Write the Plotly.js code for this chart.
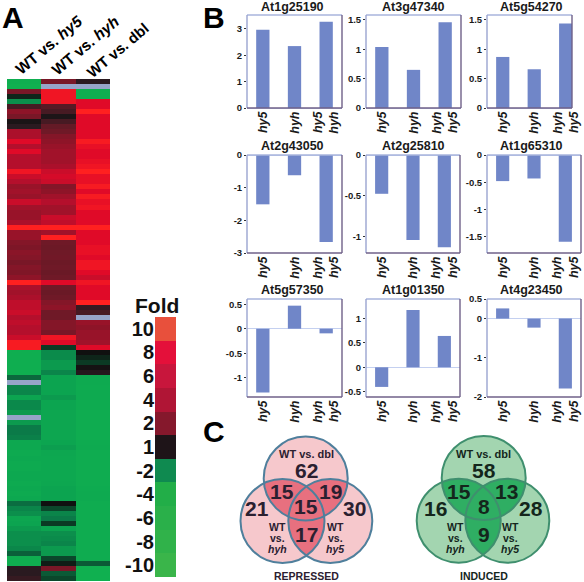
<!DOCTYPE html>
<html><head><meta charset="utf-8">
<script src="https://cdn.plot.ly/plotly-3.0.1.min.js"></script>
<style>html,body{margin:0;padding:0;background:#fff}</style></head>
<body><div id="chart" style="width:584px;height:582px"></div>
<script>
// Heatmap (fold change) read row by row, top to bottom. null = missing data
const heatCols = ['WT vs. hy5','WT vs. hyh','WT vs. dbl'];
const wtHy5 = [-9,-10,3,-0.5,-3,1.5,4,3,0.4,1,5.5,5.5,8,6,8,6,6,6,9,7,6,4.5,5,4.5,7,5,4.5,4.5,5.5,10,4.5,4.5,3.5,3.2,3.8,3.5,3,3.5,3.3,4,10,5.5,5,5.5,6.5,6.5,7,6,6.5,6,6,7,9.5,9.5,
 -9,-9,-9,-9,-9,-1.7,null,-2.5,-2.5,-4,-2.7,-2.7,-3.5,null,-3.5,-2,-2,-2.3,-6,-6,-7,-6,-7,-7,-6,-6,-7,-6,-7,-6,-1.8,-2.5,-3,-5,-4,-3.5,-3,-3,-3,-2.6,-1.6,-9,-9,1,1,1.2];
const wtHyh = [3,null,9,9,9,1.8,1.5,0.5,1.5,2,2.5,3.5,4,4.5,5,5,5,5.5,7,7.5,7,3.5,4,5,6,5,5,7,6.5,10,5,10,2.5,2.4,2.5,2.6,2.4,2.5,2.3,2.5,8,2.5,2.3,2.5,3.5,4,2.5,2.5,3.5,3.5,3,9,8,-1,
 -2.8,-2.8,-3.5,-3.5,-2.5,-4,-4,-4,-4,-3.5,-4.5,-4.5,-5,-5,-5,-5,-5,-5,-4.5,-3.7,-5.5,-6,-6,-6,-6,-6,-5.5,-4,-4,-4,0,-1.2,-2.5,-2,-1,-4,-3,-2.8,-2.5,-3.5,-3.5,-1.2,-0.3,3,-1.5,-1.2];
const wtDbl = [1,null,-9,-9,8,8,10,8,8,8,8,8,9.5,8.5,8,8,8.5,9,10,8.5,8.5,9.5,8,9.5,8.5,9,8,8,8,10,8,8,8,8.5,8.5,8,9,9,8,7,9,8,8,8,10,1.2,1.5,null,4.5,4,4.5,4.5,5,8,
 0,-0.5,-1,0.2,0.8,-7,-7,-7.5,-7,-7,-7.5,-7.5,-8,-8,-8,-8,-8,-8,-7.5,-7,-8,-8,-8,-8,-8,-8,-8,-7.5,-7,-7,-8,-8,-8,-8,-8,-8,-8,-8,-8,-8,-8,-8,-1.5,-10,-10,-10];

// Colour key
const foldLabels = ['10','8','6','4','2','1','-2','-4','-6','-8','-10'];
const foldColors = ['#e8503c','#e4103a','#c8163c','#b01535','#85182c','#1e1418','#0f8a50','#22ae48','#2ab04a','#30b24a','#3ab54a'];

// Bar charts
const geneNames = ['At1g25190','At3g47340','At5g54270','At2g43050','At2g25810','At1g65310','At5g57350','At1g01350','At4g23450'];
const geneValues = [
 [2.97,2.35,3.27],[1.04,0.65,1.46],[0.87,0.66,1.44],
 [-1.51,-0.62,-2.66],[-0.475,-1.04,-1.13],[-0.478,-0.43,-1.59],
 [-1.3,0.47,-0.095],[-0.4,1.17,0.64],[0.26,-0.23,-1.78]];
const geneTicks = [[0,1,2,3],[0,0.5,1,1.5],[0,0.5,1,1.5],[0,-1,-2,-3],[0,-0.5,-1],[0,-0.5,-1,-1.5],[0.5,0,-0.5,-1],[1,0.5,0,-0.5],[0.5,0,-1,-2]];
const geneRanges = [[0,3.53],[0,1.585],[0,1.585],[-3,0],[-1.2,0],[-1.795,0],[-1.394,0.606],[-0.606,1.394],[-2,0.5]];
const geneCats = ['<i>hy5</i>','<i>hyh</i>','<i>hyh<br>hy5</i>'];
const firstGeneCats = ['<i>hy5</i>','<i>hyh</i>','<i>hy5<br>hyh</i>'];

// Venn counts
const repressedCounts = {dbl:62, hyh:21, hy5:30, dblHyh:15, dblHy5:19, all:15, hyhHy5:17};
const inducedCounts = {dbl:58, hyh:16, hy5:28, dblHyh:15, dblHy5:13, all:8, hyhHy5:9};

const W=584,H=582;
const FONT='"Liberation Sans", Arial, sans-serif';
const dx=(a,b)=>[a/W,b/W], dy=(t,b)=>[1-b/H,1-t/H];
const traces=[], shapes=[], annotations=[];
const layout={width:W,height:H,margin:{l:0,r:0,t:0,b:0},paper_bgcolor:'#fff',plot_bgcolor:'rgba(0,0,0,0)',showlegend:false,font:{family:FONT,color:'#1a1a1a'}};

// ---- heatmap
const rows=wtHy5.map((_,i)=>i);
const z=rows.map(i=>[wtHy5[i],wtHyh[i],wtDbl[i]]);
const zr=v=>(v+10)/20;
const heatScale=[[zr(-10),'#10b050'],[zr(-4),'#0ca450'],[zr(-2),'#0b7a48'],[zr(-1),'#0b3a24'],[zr(0),'#101010'],[zr(1),'#2a1a20'],[zr(2),'#641a26'],[zr(4),'#8e1428'],[zr(6),'#b40f2c'],[zr(8),'#e00a28'],[zr(10),'#ff2020']];
traces.push({type:'heatmap',x:[0,1,2],y:rows,z:z,zmin:-10,zmax:10,colorscale:heatScale,showscale:false,xaxis:'x',yaxis:'y',hoverinfo:'skip'});
const mask=rows.map(i=>[wtHy5[i],wtHyh[i],wtDbl[i]].map(v=>v===null?1:null));
traces.push({type:'heatmap',x:[0,1,2],y:rows,z:mask,zmin:0,zmax:1,colorscale:[[0,'#96a4c8'],[1,'#96a4c8']],showscale:false,xaxis:'x',yaxis:'y',hoverinfo:'skip'});
layout.xaxis={domain:dx(7,110),range:[-0.5,2.5],visible:false,anchor:'y',fixedrange:true};
layout.yaxis={domain:dy(79,581),range:[99.5,-0.5],visible:false,anchor:'x',fixedrange:true};

// ---- key
traces.push({type:'heatmap',x:[0],y:foldLabels,z:foldLabels.map((_,i)=>[i]),zmin:0,zmax:10,
 colorscale:foldColors.map((c,i)=>[i/10,c]),showscale:false,xaxis:'x2',yaxis:'y2',hoverinfo:'skip'});
layout.xaxis2={domain:dx(155,176),range:[-0.5,0.5],visible:false,anchor:'y2',fixedrange:true};
layout.yaxis2={domain:dy(317,577),type:'category',autorange:false,range:[10.5,-0.5],anchor:'x2',showline:false,showgrid:false,zeroline:false,ticks:'',tickmode:'array',tickvals:foldLabels,ticktext:foldLabels,tickfont:{size:20,family:FONT,weight:'bold',color:'#111'},fixedrange:true};

// ---- bars
const boxes=[[247,342,15,108],[366,461,15,108],[487,572,15,108],
 [247,342,155,253],[366,460,155,253],[487,581,155,253],
 [247,342,299,397],[366,460,299,397],[487,581,299,397]];
const titleX=[292,413,531], titleY=[7,146,290];
geneNames.forEach((name,i)=>{
 const k=i+3, xa='x'+k, ya='y'+k, b=boxes[i];
 const cats=(i===0)?firstGeneCats:geneCats;
 traces.push({type:'bar',x:[0,1,2],y:geneValues[i],width:0.42,marker:{color:'#7086c8',line:{width:0}},xaxis:xa,yaxis:ya,hoverinfo:'skip'});
 layout['xaxis'+k]={domain:dx(b[0],b[1]),range:[-0.5,i===2?2.2:2.5],anchor:ya,side:'bottom',tickmode:'array',tickvals:[0,1,2],ticktext:cats,tickangle:-90,ticks:'',showgrid:false,zeroline:false,showline:false,tickfont:{size:12.5,family:FONT,weight:'bold',color:'#1a1a1a'},fixedrange:true};
 layout['yaxis'+k]={domain:dy(b[2],b[3]),range:geneRanges[i],anchor:xa,tickmode:'array',tickvals:geneTicks[i],ticktext:geneTicks[i].map(String),ticks:'outside',ticklen:2,tickwidth:1,tickcolor:'#333',showgrid:false,showline:false,zeroline:true,zerolinecolor:'#c4d0f0',zerolinewidth:1,tickfont:{size:9.5,family:FONT,weight:'bold',color:'#1a1a1a'},fixedrange:true};
 const ln=(x0,y0,x1,y1,c)=>shapes.push({type:'line',xref:xa+' domain',yref:ya+' domain',x0,y0,x1,y1,line:{color:c,width:1.4}});
 ln(0,1,1,1,'#a9b4dc'); ln(0,0,0,1,'#9aa4d0'); ln(1,0,1,1,'#6f6088'); ln(0,0,1,0,'#6f6088');
 annotations.push(lbl(titleX[i%3],titleY[Math.floor(i/3)],name,12.5,true));
});

// ---- overlay in page pixels for panel text and Venn diagrams
traces.push({type:'scatter',x:[0],y:[0],mode:'markers',marker:{opacity:0,size:1},xaxis:'x12',yaxis:'y12',hoverinfo:'skip'});
layout.xaxis12={domain:[0,1],range:[0,W],visible:false,anchor:'y12',fixedrange:true};
layout.yaxis12={domain:[0,1],range:[H,0],visible:false,anchor:'x12',fixedrange:true};

function lbl(x,y,text,size,bold,angle,color){
 return {xref:'x12',yref:'y12',x,y,text:bold?'<b>'+text+'</b>':text,showarrow:false,xanchor:'center',yanchor:'middle',textangle:angle||0,
  font:{family:FONT,size,color:color||'#1a1a1a'},borderpad:0,borderwidth:0};
}
[[13,17,'A'],[214,17,'B'],[214,431,'C']].forEach(a=>annotations.push(lbl(a[0],a[1],a[2],30,true,0,'#000')));
annotations.push(lbl(48,45,'WT vs. <i>hy5</i>',15.5,true,-40,'#000'));
annotations.push(lbl(85,45,'WT vs. <i>hyh</i>',15.5,true,-40,'#000'));
annotations.push(lbl(117,50,'WT vs. dbl',15,true,-40,'#000'));
annotations.push(lbl(157,305,'Fold',21,true,0,'#111'));

function venn(cx,cy,top,left,right,counts,title,fill,lens,stroke,ink,tx){
 const r=42, C=[top,left,right];
 const circle=(c,o)=>Object.assign({type:'circle',xref:'x12',yref:'y12',x0:c[0]-r,x1:c[0]+r,y0:c[1]-r,y1:c[1]+r},o);
 C.forEach(c=>shapes.push(circle(c,{fillcolor:fill,line:{width:0}})));
 [[0,1],[0,2],[1,2]].forEach(p=>{
  const A=C[p[0]],B=C[p[1]],d=Math.hypot(B[0]-A[0],B[1]-A[1]),th=Math.atan2(B[1]-A[1],B[0]-A[0]),al=Math.acos(d/(2*r));
  const pts=[];
  for(let t=0;t<=40;t++){const a=th-al+2*al*t/40;pts.push([A[0]+r*Math.cos(a),A[1]+r*Math.sin(a)]);}
  for(let t=0;t<=40;t++){const a=th+Math.PI-al+2*al*t/40;pts.push([B[0]+r*Math.cos(a),B[1]+r*Math.sin(a)]);}
  shapes.push({type:'path',xref:'x12',yref:'y12',path:'M'+pts.map(q=>q[0].toFixed(2)+','+q[1].toFixed(2)).join('L')+'Z',fillcolor:lens,line:{width:0}});
 });
 C.forEach(c=>shapes.push(circle(c,{fillcolor:'rgba(0,0,0,0)',line:{color:stroke,width:2}})));
 const N=(x,y,v)=>annotations.push(lbl(x,y,String(v),21,true,0,ink));
 const T=(x,y,t,s)=>annotations.push(lbl(x,y,t,s||10.5,true,0,ink));
 T(cx,454,'WT vs. dbl',11);
 N(cx,470.7,counts.dbl);
 N(tx.a,491.5,counts.dblHyh); N(tx.b,491.5,counts.dblHy5);
 N(cx,506,counts.all); N(tx.c,508,counts.hyh); N(tx.d,508,counts.hy5); N(cx,534,counts.hyhHy5);
 [[tx.e,'<i>hyh</i>'],[tx.f,'<i>hy5</i>']].forEach(o=>{T(o[0],526.7,'WT');T(o[0],538,'vs.');T(o[0],549,o[1]);});
 T(cx,576,title,10.5);
}
venn(306.3,478,[305.7,478.4],[282.5,521],[330.3,521],repressedCounts,'REPRESSED','#f6c8cc','#e8707f','#4f7f9c','#2b2030',{a:281.7,b:330.7,c:257.3,d:354,e:277,f:335});
venn(483.5,478,[483.7,478],[458.7,520.7],[507.3,520.7],inducedCounts,'INDUCED','#a3d5b0','#2fae63','#3f8f6e','#14261c',{a:459,b:506.7,c:435,d:531,e:455,f:510});

layout.shapes=shapes; layout.annotations=annotations;
Plotly.newPlot('chart',traces,layout,{displayModeBar:false,staticPlot:true});
</script></body></html>
